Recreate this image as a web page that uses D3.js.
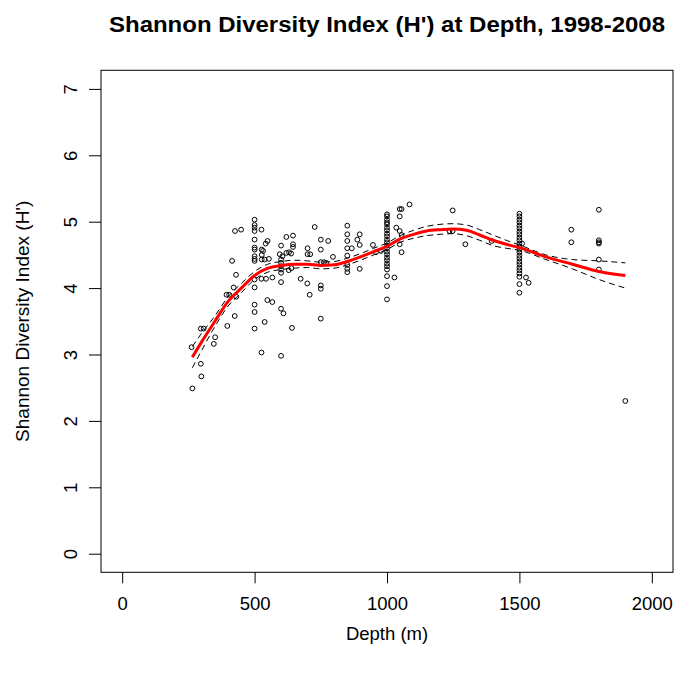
<!DOCTYPE html>
<html>
<head>
<meta charset="utf-8">
<script src="https://cdn.jsdelivr.net/npm/d3@7"></script>
<style>
  body { margin: 0; background: #fff; }
  svg text { font-family: "Liberation Sans", Arial, sans-serif; fill: #000; }
</style>
</head>
<body>
<div id="chart"></div>
<script>
// Observaciones (profundidad en m, índice H')
const depth = [262,265,297,299,297,308,346,351,397,394,404,421,430,415,426,449,425,431,
  500,500,500,500,500,500,500,500,500,500,500,500,500,500,500,
  526,527,527,527,532,538,542,549,554,526,543,567,548,567,538,526,
  600,595,605,600,600,600,600,600,600,600,609,600,
  620,620,630,638,645,645,645,629,639,641,
  674,700,710,700,699,708,727,
  750,750,750,762,770,750,750,750,778,796,
  850,850,850,850,867,850,850,850,850,
  888,897,897,897,947,977,958,
  1000,1000,1000,1000,1000,1000,1000,1000,1000,1000,1000,1000,1000,1000,1000,1000,1000,1000,1000,1000,1000,1000,1000,
  1028,1048,1055,1085,1048,1035,1048,1055,1048,1055,
  1248,1236,1248,1296,1395,
  1500,1500,1500,1500,1500,1500,1500,1500,1500,1500,1500,1500,1500,1500,1500,1500,1500,1500,1500,1500,1500,1500,1500,1500,
  1510,1525,1535,
  1696,1696,1800,1800,1800,1800,1800,1800,1900];
const shannon = [3.11,2.49,2.86,2.67,3.39,3.39,3.16,3.26,3.43,3.90,3.90,4.01,4.20,4.41,4.86,4.88,3.58,3.87,
  5.03,4.95,4.91,4.86,4.73,4.61,4.58,4.48,4.44,4.41,4.13,4.01,3.75,3.64,3.39,
  4.88,4.58,4.50,4.43,4.56,4.43,4.67,4.71,4.44,4.14,4.14,4.16,3.82,3.79,3.49,3.03,
  4.64,4.51,4.48,4.43,4.38,4.33,4.28,4.23,4.09,3.69,3.62,2.98,
  4.77,4.53,4.54,4.52,4.79,4.66,4.62,4.27,4.30,3.40,
  4.14,4.60,4.51,4.51,4.07,3.90,4.92,
  4.73,4.58,4.39,4.39,4.38,4.04,3.99,3.54,4.71,4.47,
  4.94,4.81,4.71,4.60,4.60,4.49,4.35,4.29,4.24,
  4.73,4.81,4.65,4.29,4.65,4.56,4.54,
  5.11,5.08,5.03,4.99,4.96,4.91,4.87,4.82,4.78,4.73,4.69,4.64,4.60,4.55,4.51,4.46,4.42,4.37,4.33,4.28,4.18,4.03,3.83,
  4.16,5.19,5.19,5.26,5.08,4.91,4.86,4.80,4.66,4.54,
  5.17,4.86,4.86,4.66,4.71,
  5.12,5.08,5.03,4.99,4.94,4.90,4.85,4.81,4.76,4.72,4.67,4.63,4.58,4.54,4.49,4.45,4.40,4.36,4.31,4.27,4.22,4.17,4.06,3.93,
  4.67,4.16,4.08,
  4.88,4.69,5.18,4.72,4.69,4.67,4.43,4.28,2.30];

// Ajuste loess y banda de confianza
const fitDepth = [265,300,350,400,450,500,550,600,650,700,750,800,850,900,950,1000,1050,1100,1150,1200,1250,1300,1350,1400,1450,1500,1600,1700,1800,1900];
const fitH   = [2.96,3.19,3.50,3.80,4.00,4.19,4.30,4.34,4.36,4.36,4.34,4.35,4.40,4.47,4.55,4.63,4.74,4.81,4.86,4.88,4.89,4.87,4.80,4.72,4.66,4.61,4.47,4.36,4.25,4.19];
const upperH = [3.12,3.32,3.58,3.87,4.07,4.25,4.36,4.40,4.42,4.41,4.39,4.40,4.45,4.52,4.60,4.68,4.79,4.87,4.93,4.96,4.97,4.95,4.88,4.80,4.72,4.65,4.50,4.43,4.41,4.38];
const lowerH = [2.80,3.06,3.42,3.73,3.93,4.13,4.24,4.28,4.30,4.31,4.29,4.30,4.35,4.42,4.50,4.58,4.69,4.75,4.79,4.81,4.82,4.79,4.72,4.64,4.60,4.57,4.43,4.29,4.13,4.00];

const xTicks = [0, 500, 1000, 1500, 2000];
const yTicks = [0, 1, 2, 3, 4, 5, 6, 7];

const width = 680, height = 673;
const plotLeft = 101, plotRight = 673, plotTop = 70.3, plotBottom = 572.3;

const svg = d3.select('#chart').append('svg')
    .attr('width', width)
    .attr('height', height);

const x = d3.scaleLinear().domain([-80, 2080]).range([plotLeft, plotRight]);
const y = d3.scaleLinear().domain([-0.28, 7.28]).range([plotBottom, plotTop]);

//Título
svg.append('text')
    .attr('x', (plotLeft + plotRight) / 2)
    .attr('y', 32)
    .attr('text-anchor', 'middle')
    .attr('textLength', 556)
    .attr('lengthAdjust', 'spacingAndGlyphs')
    .style('font-size', '22.3px')
    .style('font-weight', 'bold')
    .text("Shannon Diversity Index (H') at Depth, 1998-2008");

//Ejes
const xAxis = svg.append('g')
    .attr('transform', 'translate(0,' + plotBottom + ')')
    .call(d3.axisBottom(x).tickValues(xTicks).tickSize(11).tickPadding(14).tickFormat(d3.format('d')));
xAxis.select('.domain').remove();
xAxis.selectAll('line').attr('stroke', '#000');
xAxis.selectAll('text').style('font-size', '18.5px').style('font-family', '"Liberation Sans", Arial, sans-serif');

const yAxis = svg.append('g')
    .attr('transform', 'translate(' + plotLeft + ',0)')
    .call(d3.axisLeft(y).tickValues(yTicks).tickSize(12).tickFormat(d3.format('d')));
yAxis.select('.domain').remove();
yAxis.selectAll('line').attr('stroke', '#000');
yAxis.selectAll('text').remove();
yAxis.selectAll('.tick').append('text')
    .attr('transform', 'translate(-24,0) rotate(-90)')
    .attr('text-anchor', 'middle')
    .style('font-size', '18.5px')
    .style('font-family', '"Liberation Sans", Arial, sans-serif')
    .text(d => d);

//Caja
svg.append('rect')
    .attr('x', plotLeft).attr('y', plotTop)
    .attr('width', plotRight - plotLeft).attr('height', plotBottom - plotTop)
    .attr('fill', 'none')
    .attr('stroke', '#000')
    .attr('stroke-width', 1);

//Etiquetas
svg.append('text')
    .attr('x', (plotLeft + plotRight) / 2)
    .attr('y', 640)
    .attr('text-anchor', 'middle')
    .style('font-size', '18.5px')
    .text('Depth (m)');

svg.append('text')
    .attr('transform', 'translate(29,' + ((plotTop + plotBottom) / 2) + ') rotate(-90)')
    .attr('text-anchor', 'middle')
    .style('font-size', '19px')
    .text("Shannon Diversity Index (H')");

//Puntos
svg.append('g').selectAll('circle')
    .data(depth.map((d, i) => [d, shannon[i]]))
    .enter()
    .append('circle')
    .attr('cx', d => x(d[0]))
    .attr('cy', d => y(d[1]))
    .attr('r', 2.4)
    .attr('fill', 'none')
    .attr('stroke', '#000')
    .attr('stroke-width', 1);

//Curvas
const line = d3.line().curve(d3.curveMonotoneX);

svg.append('path')
    .attr('d', line(fitDepth.map((d, i) => [x(d), y(upperH[i])])))
    .attr('fill', 'none')
    .attr('stroke', '#000')
    .attr('stroke-width', 1)
    .attr('stroke-dasharray', '6,4');

svg.append('path')
    .attr('d', line(fitDepth.map((d, i) => [x(d), y(lowerH[i])])))
    .attr('fill', 'none')
    .attr('stroke', '#000')
    .attr('stroke-width', 1)
    .attr('stroke-dasharray', '6,4');

svg.append('path')
    .attr('d', line(fitDepth.map((d, i) => [x(d), y(fitH[i])])))
    .attr('fill', 'none')
    .attr('stroke', '#ff0000')
    .attr('stroke-width', 3);
</script>
</body>
</html>
